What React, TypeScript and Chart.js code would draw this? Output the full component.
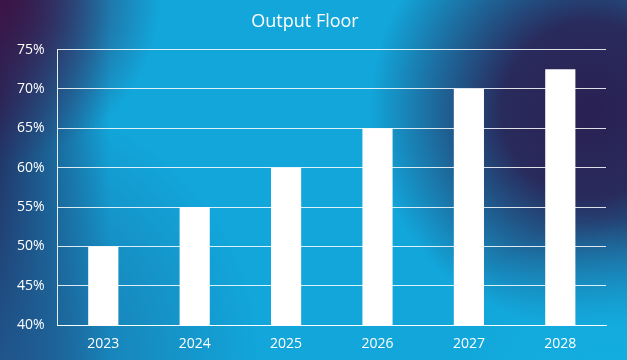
import React, { useEffect, useRef } from "react";
import { Chart, registerables } from "chart.js";

Chart.register(...registerables);

const categories = ["2023", "2024", "2025", "2026", "2027", "2028"];
const outputFloor = [50, 55, 60, 65, 70, 72.5];
const yTicks = [40, 45, 50, 55, 60, 65, 70, 75];

const bgPlugin = {
  id: "bgPlugin",
  beforeDraw(chart: any) {
    const { ctx, width, height } = chart;
    ctx.save();
    ctx.fillStyle = "#12a6da";
    ctx.fillRect(0, 0, width, height);
    let g = ctx.createLinearGradient(0, 0, 110, 0);
    g.addColorStop(0, "rgba(36,40,90,0.95)");
    g.addColorStop(1, "rgba(36,40,90,0)");
    ctx.fillStyle = g;
    ctx.fillRect(0, 0, width, height);
    let r = ctx.createRadialGradient(0, 360, 0, 0, 360, 260);
    r.addColorStop(0, "rgba(30,95,150,0.8)");
    r.addColorStop(1, "rgba(30,95,150,0)");
    ctx.fillStyle = r;
    ctx.fillRect(0, 0, width, height);
    r = ctx.createRadialGradient(0, 0, 0, 0, 0, 160);
    r.addColorStop(0, "rgba(60,20,70,1)");
    r.addColorStop(1, "rgba(60,20,70,0)");
    ctx.fillStyle = r;
    ctx.fillRect(0, 0, width, height);
    r = ctx.createRadialGradient(590, 110, 0, 590, 110, 220);
    r.addColorStop(0, "rgba(42,32,82,1)");
    r.addColorStop(0.4, "rgba(42,36,86,0.95)");
    r.addColorStop(1, "rgba(42,36,86,0)");
    ctx.fillStyle = r;
    ctx.fillRect(0, 0, width, height);
    r = ctx.createRadialGradient(610, 390, 0, 610, 390, 170);
    r.addColorStop(0, "rgba(20,175,225,1)");
    r.addColorStop(1, "rgba(20,175,225,0)");
    ctx.fillStyle = r;
    ctx.fillRect(0, 0, width, height);
    ctx.restore();
  },
};

export default function App() {
  const ref = useRef<HTMLCanvasElement | null>(null);
  useEffect(() => {
    document.body.style.margin = "0";
    const chart = new Chart(ref.current as HTMLCanvasElement, {
      type: "bar",
      data: {
        labels: categories,
        datasets: [
          {
            label: "Output Floor",
            data: outputFloor,
            backgroundColor: "#ffffff",
            borderWidth: 0,
            barPercentage: 0.33,
            categoryPercentage: 1,
          },
        ],
      },
      options: {
        animation: false,
        responsive: false,
        layout: { padding: { top: 2, left: 4, right: 21, bottom: 6 } },
        plugins: {
          legend: { display: false },
          tooltip: { enabled: false },
          title: {
            display: true,
            text: "Output Floor",
            color: "#ffffff",
            font: { family: "Open Sans", size: 18, weight: "normal" },
            padding: { top: 9, bottom: 17 },
          },
        },
        scales: {
          x: {
            grid: { display: false },
            border: { display: true, color: "rgba(255,255,255,0.9)" },
            ticks: {
              color: "#ffffff",
              font: { family: "Open Sans", size: 14 },
              padding: 2,
            },
          },
          y: {
            min: 40,
            max: 75,
            afterBuildTicks(axis: any) {
              axis.ticks = yTicks.map((v) => ({ value: v }));
            },
            grid: {
              color: "rgba(255,255,255,0.85)",
              drawTicks: false,
              lineWidth: 1,
            },
            border: { display: true, color: "rgba(255,255,255,0.9)" },
            ticks: {
              color: "#ffffff",
              font: { family: "Open Sans", size: 14 },
              padding: 13,
              callback: (v: any) => v + "%",
            },
          },
        },
      },
      plugins: [bgPlugin],
    });
    return () => chart.destroy();
  }, []);
  return (
    <div style={{ width: 627, height: 360 }}>
      <canvas ref={ref} width={627} height={360} style={{ display: "block" }} />
    </div>
  );
}
